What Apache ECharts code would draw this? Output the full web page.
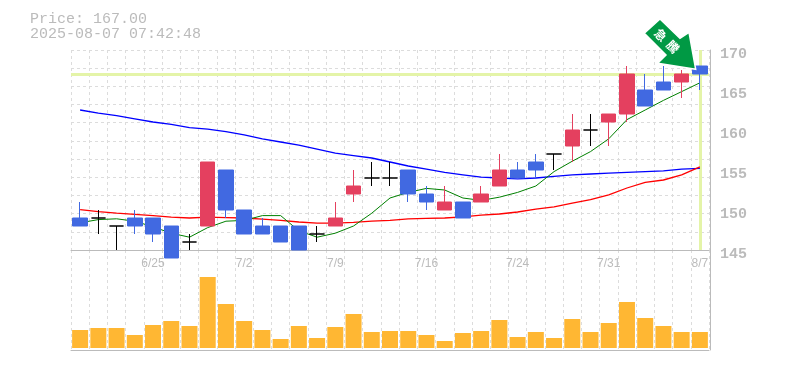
<!DOCTYPE html>
<html><head><meta charset="utf-8">
<style>html,body{margin:0;padding:0;background:#fff}#c{width:785px;height:370px}</style>
<script src="https://cdn.jsdelivr.net/npm/echarts@6/dist/echarts.min.js"></script>
</head><body><div id="c"></div>
<script>
const categories=['6/19','6/20','6/23','6/24','6/25','6/26','6/27','6/30','7/1','7/2','7/3','7/4','7/7','7/8','7/9','7/10','7/11','7/14','7/15','7/16','7/17','7/18','7/22','7/23','7/24','7/25','7/28','7/29','7/30','7/31','8/1','8/4','8/5','8/6','8/7'];
const opens =[149,149,148,149,149,148,146,148,155,150,148,148,148,147,148,152,154,154,155,152,150,151,151,153,155,156,157,158,160,161,162,165,166,166,168];
const closes=[148,149,148,148,147,144,146,156,150,147,147,146,145,147,149,153,154,154,152,151,151,149,152,155,154,155,157,160,160,162,167,163,165,167,167];
const lows  =[148,147,145,147,146,144,145,148,149,147,147,146,145,146,148,151,153,153,151,150,150,149,151,153,154,154,155,156,158,158,161,163,165,164,165];
const highs =[151,150,148,150,149,148,147,156,155,150,149,148,148,148,151,155,156,156,155,153,153,151,153,157,156,157,157,162,162,162,168,167,168,167.5,168];
const maShort=[148.4,148.8,148.9,148.6,147.9,147.1,146.6,147.8,148.6,148.7,149.3,149.3,147.4,146.6,147.1,148.0,149.6,151.5,152.2,152.7,152.5,151.5,151.2,151.6,152.2,153.0,154.8,156.1,157.3,158.9,161.3,162.5,163.7,164.8,165.9];
const maMid=[150.05,149.8,149.6,149.45,149.3,149.1,149.0,149.1,149.05,149.0,148.85,148.7,148.5,148.35,148.35,148.45,148.6,148.7,148.9,148.95,149.0,149.15,149.35,149.5,149.75,150.1,150.4,150.85,151.3,151.9,152.75,153.45,153.75,154.4,155.4];
const maLong=[162.5,162.1,161.8,161.4,161.0,160.7,160.3,160.1,159.8,159.4,158.9,158.5,158.1,157.6,157.1,156.8,156.5,156.0,155.5,155.1,154.7,154.4,154.1,154.0,153.9,154.0,154.2,154.4,154.5,154.6,154.7,154.8,154.9,155.1,155.2];
const volumes=[18,20,20,13,23,27,22,71,44,27,18,9,22,10,21,34,16,17,17,13,7,15,17,28,11,16,10,29,16,25,46,30,22,16,16];
const priceLabel='Price: 167.00';
const timeLabel='2025-08-07 07:42:48';
const currentPrice=167.00;
const arrowText=['急','騰'];

const candleData=categories.map((_,i)=>[opens[i],closes[i],lows[i],highs[i]]);
const GRID='#dcdcdc',AXIS='#bbbbbb',TEXT='#bbbbbb',RED='#e4405f',BLUE='#4169e1',MARK='#e4f4a8';
const dash={color:GRID,type:[3,3],width:1};
const mono='"Liberation Mono","DejaVu Sans Mono",monospace';
const chart=echarts.init(document.getElementById('c'),null,{renderer:'canvas'});
chart.setOption({
  animation:false,
  backgroundColor:'#fff',
  title:{text:priceLabel+'\n'+timeLabel,left:25,top:7,textStyle:{fontFamily:mono,fontSize:15,fontWeight:'normal',color:TEXT,lineHeight:15}},
  grid:[{left:71,top:50,width:638,height:200},{left:71,top:250,width:638,height:100}],
  xAxis:[
    {type:'category',gridIndex:0,data:categories,boundaryGap:true,
      axisLine:{show:true,onZero:false,lineStyle:{color:AXIS,width:1}},axisTick:{show:false},
      splitLine:{show:true,interval:0,lineStyle:dash},
      axisLabel:{show:true,interval:i=>i%5===4,margin:8,fontFamily:'"Liberation Sans",sans-serif',fontSize:12,color:TEXT}},
    {type:'category',gridIndex:1,data:categories,boundaryGap:true,
      axisLine:{show:true,onZero:false,lineStyle:{color:AXIS,width:1}},axisTick:{show:false},
      splitLine:{show:true,interval:0,lineStyle:dash},axisLabel:{show:false}}
  ],
  yAxis:[
    {type:'value',gridIndex:0,position:'right',offset:1,min:145,max:170,interval:5,
      axisLine:{show:true,lineStyle:{color:AXIS,width:1}},axisTick:{show:false},splitLine:{show:false},
      axisLabel:{margin:10,fontFamily:mono,fontSize:15,fontWeight:'bold',color:TEXT,verticalAlign:'top',lineHeight:8}},
    {type:'value',gridIndex:0,position:'left',min:0,max:11,interval:1,
      axisLine:{show:false},axisTick:{show:false},axisLabel:{show:false},splitLine:{show:true,lineStyle:dash}},
    {type:'value',gridIndex:1,position:'right',offset:1,min:-2,max:98,
      axisLine:{show:true,onZero:false,lineStyle:{color:AXIS,width:1}},axisTick:{show:false},splitLine:{show:false},axisLabel:{show:false}}
  ],
  series:[
    {name:'MA long',type:'line',xAxisIndex:0,yAxisIndex:0,data:maLong,showSymbol:false,symbol:'none',z:3,
      lineStyle:{color:'#0000ff',width:1.3},
      markLine:{silent:true,symbol:'none',z:2,label:{show:false},
        lineStyle:{color:MARK,width:3,type:'solid'},
        data:[{yAxis:currentPrice},{xAxis:categories[categories.length-1]}]}},
    {name:'MA mid',type:'line',xAxisIndex:0,yAxisIndex:0,data:maMid,showSymbol:false,symbol:'none',z:3,lineStyle:{color:'#ff0000',width:1.3}},
    {name:'MA short',type:'line',xAxisIndex:0,yAxisIndex:0,data:maShort,showSymbol:false,symbol:'none',z:3,lineStyle:{color:'#008000',width:1}},
    {name:'Price',type:'candlestick',xAxisIndex:0,yAxisIndex:0,data:candleData,barWidth:15,clip:false,z:4,
      itemStyle:{color:RED,color0:BLUE,borderColor:RED,borderColor0:BLUE,borderColorDoji:'#000',borderWidth:1}},
    {name:'Volume',type:'bar',xAxisIndex:1,yAxisIndex:2,data:volumes,barWidth:16,itemStyle:{color:'#ffb733'}}
  ],
  graphic:[
    {type:'polygon',z:100,shape:{points:[[644.3,33.3],[660,19],[680,38.3],[689,32.3],[695.7,69.3],[657.7,63.3],[666,55]]},
      style:{fill:'#009944',stroke:'#ffffff',lineWidth:1.5}},
    {type:'text',z:101,x:660.7,y:35,rotation:-Math.PI/4,style:{text:arrowText[0],fill:'#fff',font:'bold 12px "Noto Sans CJK JP"',align:'center',verticalAlign:'middle'}},
    {type:'text',z:101,x:673,y:46.7,rotation:-Math.PI/4,style:{text:arrowText[1],fill:'#fff',font:'bold 12px "Noto Sans CJK JP"',align:'center',verticalAlign:'middle'}}
  ]
});
</script></body></html>
